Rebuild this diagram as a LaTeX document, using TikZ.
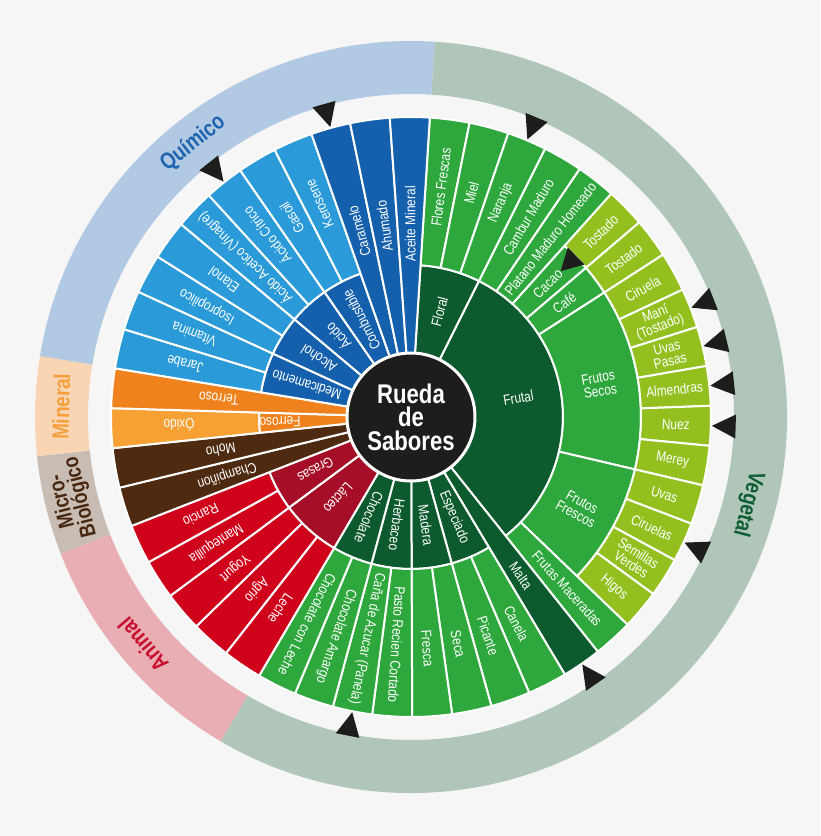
\documentclass[tikz,border=0pt]{standalone}
\usepackage{fontspec}
\setmainfont{Liberation Sans}[FakeStretch=0.82]
\definecolor{bg}{HTML}{F6F6F6}
\definecolor{qlight}{HTML}{2A9AD8}
\definecolor{qdark}{HTML}{1560AC}
\definecolor{orgdark}{HTML}{F0821E}
\definecolor{orglight}{HTML}{F7A134}
\definecolor{cbrown}{HTML}{4E2A10}
\definecolor{redA}{HTML}{D0021B}
\definecolor{redB}{HTML}{A50E26}
\definecolor{gdark}{HTML}{0C5A2E}
\definecolor{gmid}{HTML}{2EA83C}
\definecolor{glime}{HTML}{93C01F}
\definecolor{bandq}{HTML}{B1C9E2}
\definecolor{bandv}{HTML}{AFC6B9}
\definecolor{bandm}{HTML}{F9D5B4}
\definecolor{bandmb}{HTML}{C8BDB5}
\definecolor{banda}{HTML}{E8AEB4}
\definecolor{txq}{HTML}{1F64B0}
\definecolor{txv}{HTML}{0F5E33}
\definecolor{txm}{HTML}{F5A03C}
\definecolor{txmb}{HTML}{4A2810}
\definecolor{txa}{HTML}{C8102E}
\definecolor{ink}{HTML}{1D1D1B}
\newcommand{\Dang}{7.659574}
\newcommand{\Tzero}{86.4}
\newcommand{\wseg}[5]{%
  \pgfmathsetmacro{\aS}{\Tzero-(#1)*\Dang}%
  \pgfmathsetmacro{\aE}{\Tzero-(#2+1)*\Dang}%
  \filldraw[sector, fill=#5] (\aS:#3) arc[start angle=\aS, end angle=\aE, radius=#3] -- (\aE:#4) arc[start angle=\aE, end angle=\aS, radius=#4] -- cycle;}
\newcommand{\wband}[3]{%
  \pgfmathsetmacro{\aS}{\Tzero-(#1)*\Dang}%
  \pgfmathsetmacro{\aE}{\Tzero-(#2+1)*\Dang}%
  \fill[#3] (\aS:323) arc[start angle=\aS, end angle=\aE, radius=323] -- (\aE:376) arc[start angle=\aE, end angle=\aS, radius=376] -- cycle;}
\newcommand{\wlab}[4]{%
  \pgfmathsetmacro{\aC}{\Tzero-(#1+#2+1)/2*\Dang}%
  \node[lbl, rotate=\aC] (L#1-#2-#3) at (\aC:#3) {#4};}
\newcommand{\wtri}[3]{%
  \pgfmathsetmacro{\aC}{\Tzero-(#1+0.5)*\Dang}%
  \pgfmathsetmacro{\aL}{\aC+12/#3*57.29578}%
  \pgfmathsetmacro{\aR}{\aC-12/#3*57.29578}%
  \fill[ink] (\aC:#2) -- (\aL:#3) -- (\aR:#3) -- cycle;}
\begin{document}
\begin{tikzpicture}[x=1pt,y=1pt,
  lbl/.style={text=white, font=\fontsize{14.5}{13.5}\selectfont, inner sep=0pt, align=center},
  bandlbl/.style={font=\bfseries\fontsize{23}{19}\selectfont, inner sep=0pt, align=center},
  sector/.style={draw=white, line width=2pt, line join=round}]
\useasboundingbox (-411,-419) rectangle (409,417);
\fill[bg] (-411,-419) rectangle (409,417);
% category band
\wband{0}{26}{bandv}
\wband{27}{31}{banda}
\wband{32}{33}{bandmb}
\wband{34}{35}{bandm}
\wband{36}{46}{bandq}
% Vegetal
\wseg{0}{2}{64}{152}{gdark}
\wseg{3}{17}{64}{152}{gdark}
\foreach \k in {0,...,4} {\wseg{\k}{\k}{152}{300}{gmid}}
\wseg{5}{5}{152}{230}{gmid}
\wseg{6}{6}{152}{230}{gmid}
\wseg{7}{12}{152}{230}{gmid}
\wseg{13}{16}{152}{230}{gmid}
\foreach \k in {5,...,16} {\wseg{\k}{\k}{230}{300}{glime}}
\wseg{17}{17}{152}{300}{gmid}
\wseg{18}{18}{64}{300}{gdark}
\wseg{19}{20}{64}{152}{gdark}
\wseg{21}{22}{64}{152}{gdark}
\wseg{23}{24}{64}{152}{gdark}
\wseg{25}{26}{64}{152}{gdark}
\foreach \k in {19,...,26} {\wseg{\k}{\k}{152}{300}{gmid}}
% Animal
\wseg{27}{29}{64}{152}{redB}
\wseg{30}{31}{64}{152}{redB}
\foreach \k in {27,...,31} {\wseg{\k}{\k}{152}{300}{redA}}
% Micro-Biologico
\wseg{32}{32}{64}{300}{cbrown}
\wseg{33}{33}{64}{300}{cbrown}
% Mineral
\wseg{34}{34}{64}{152}{orgdark}
\wseg{34}{34}{152}{300}{orglight}
\wseg{35}{35}{64}{300}{orgdark}
% Quimico
\wseg{36}{37}{64}{152}{qdark}
\wseg{38}{39}{64}{152}{qdark}
\wseg{40}{41}{64}{152}{qdark}
\wseg{42}{43}{64}{152}{qdark}
\foreach \k in {36,...,43} {\wseg{\k}{\k}{152}{300}{qlight}}
\foreach \k in {44,45,46} {\wseg{\k}{\k}{64}{300}{qdark}}
% markers
\foreach \k in {2,8,9,10,11,14,18,24,41,44} {\wtri{\k}{301}{325}}
\wtri{5}{209}{231}
% labels: Vegetal
\wlab{0}{0}{232}{Flores Frescas}
\wlab{1}{1}{232}{Miel}
\wlab{2}{2}{232}{Naranja}
\wlab{3}{3}{232}{Cambur Maduro}
\wlab{4}{4}{226}{Platano Maduro Homeado}
\wlab{5}{5}{265}{Tostado}
\wlab{6}{6}{265}{Tostado}
\wlab{7}{7}{265}{Ciruela}
\wlab{8}{8}{265}{Maní\\(Tostado)}
\wlab{9}{9}{265}{Uvas\\Pasas}
\wlab{10}{10}{265}{Almendras}
\wlab{11}{11}{265}{Nuez}
\wlab{12}{12}{265}{Merey}
\wlab{13}{13}{265}{Uvas}
\wlab{14}{14}{265}{Ciruelas}
\wlab{15}{15}{265}{Semillas\\Verdes}
\wlab{16}{16}{265}{Higos}
\wlab{17}{17}{232}{Frutas Maceradas}
\wlab{18}{18}{193}{Malta}
\wlab{19}{19}{232}{Canela}
\wlab{20}{20}{232}{Picante}
\wlab{21}{21}{232}{Seca}
\wlab{22}{22}{232}{Fresca}
\wlab{23}{23}{228}{Pasto Recien Cortado}
\wlab{24}{24}{226}{Caña de Azucar (Panela)}
\wlab{25}{25}{232}{Chocolate Amargo}
\wlab{26}{26}{232}{Chocolate con Leche}
\wlab{5}{5}{191}{Cacao}
\wlab{6}{6}{191}{Café}
\wlab{7}{12}{191}{Frutos\\Secos}
\wlab{13}{16}{191}{Frutos\\Frescos}
\wlab{0}{2}{109}{Floral}
\node[lbl, rotate=10] (Lfrutal) at (10:109) {Frutal};
\wlab{19}{20}{109}{Especiado}
\wlab{21}{22}{109}{Madera}
\wlab{23}{24}{109}{Herbaceo}
\wlab{25}{26}{109}{Chocolate}
% Animal
\wlab{27}{27}{232}{Leche}
\wlab{28}{28}{232}{Agrio}
\wlab{29}{29}{232}{Yogurt}
\wlab{30}{30}{232}{Mantequilla}
\wlab{31}{31}{232}{Rancio}
\wlab{27}{29}{109}{Lácteo}
\wlab{30}{31}{109}{Grasas}
% Micro / Mineral
\wlab{32}{32}{193}{Champiñon}
\wlab{33}{33}{193}{Moho}
\wlab{34}{34}{232}{Óxido}
\wlab{34}{34}{131}{Ferroso}
\wlab{35}{35}{193}{Terroso}
% Quimico
\wlab{36}{36}{232}{Jarabe}
\wlab{37}{37}{232}{Vitamina}
\wlab{38}{38}{232}{Isopropilico}
\wlab{39}{39}{232}{Etanol}
\wlab{40}{40}{230}{Ácido Acetico (Vinagre)}
\wlab{41}{41}{232}{Ácido Cítrico}
\wlab{42}{42}{232}{Gasoil}
\wlab{43}{43}{232}{Kerosene}
\wlab{44}{44}{193}{Caramelo}
\wlab{45}{45}{193}{Ahumado}
\wlab{46}{46}{193}{Aceite Mineral}
\wlab{36}{37}{109}{Medicamento}
\wlab{38}{39}{109}{Alcohol}
\wlab{40}{41}{109}{Ácido}
\wlab{42}{43}{109}{Combustible}
% band labels
\node[bandlbl, text=txq, rotate=38.5] (bq) at (128.5:350) {Químico};
\node[bandlbl, text=txv, rotate=-104.5] (bv) at (-14.5:348) {Vegetal};
\node[bandlbl, text=txm, rotate=88.3] (bm) at (178.3:350) {Mineral};
\node[bandlbl, text=txmb, font=\bfseries\fontsize{22}{19}\selectfont, rotate=103.6] (bmb) at (193.6:349) {Micro-\\Biológico};
\node[bandlbl, text=txa, rotate=130.4] (ba) at (220.4:352) {Animal};
% centre
\filldraw[fill=ink, draw=white, line width=3pt] (0,0) circle[radius=64];
\node[font=\bfseries\fontsize{27}{23.5}\selectfont, text=white, align=center, inner sep=0pt] (title) at (0,0) {Rueda\\de\\Sabores};
\end{tikzpicture}
\end{document}
